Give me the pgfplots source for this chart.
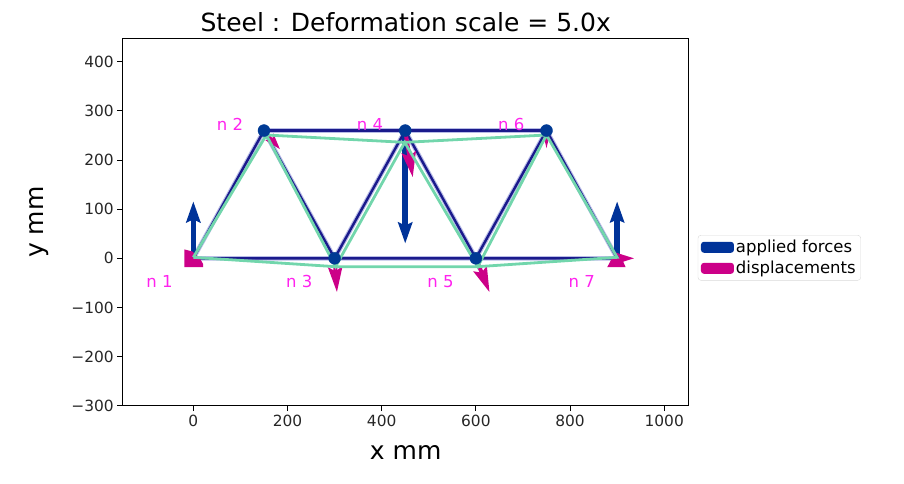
\documentclass[border=0pt]{standalone}
\usepackage{fontspec}
\setmainfont{DejaVu Sans}
\usepackage{pgfplots}
\pgfplotsset{compat=1.18}
\usetikzlibrary{arrows.meta}
\definecolor{forcec}{HTML}{003399}
\definecolor{dispc}{HTML}{CC0088}
\definecolor{memb}{HTML}{1A1A8C}
\definecolor{membhalo}{HTML}{B8BCE6}
\definecolor{defc}{HTML}{72D6AC}
\definecolor{nodec}{HTML}{003A94}
\definecolor{labc}{HTML}{FF22EE}
\pgfplotstableread{
x y u v
0 0 0 116
450 260 0 -230
900 0 0 116
}\forces
\pgfplotstableread{
x y u v
300 0 5 -69
450 260 16 -95
600 0 29 -69
}\displ
\pgfplotsset{
  dq/.style n args={3}{dispc,line width=#1,forget plot,-{Stealth[length=#2,width=#3,inset=4pt]},
    quiver={u=\thisrow{u},v=\thisrow{v}}},
}
\tikzset{lab/.style={font=\fontsize{16.5}{18}\selectfont,text=labc}}
\begin{document}
\begin{tikzpicture}[x=1pt,y=1pt]
\begin{axis}[
    at={(0,0)},anchor=south west,
    scale only axis,width=566pt,height=367pt,
    xmin=-150,xmax=1052,ymin=-300,ymax=447,
    xtick={0,200,400,600,800,1000},
    xticklabels={0,200,400,600,800,1000},
    ytick={-300,-200,-100,0,100,200,300,400},
    yticklabels={−300,−200,−100,0,100,200,300,400},
    xtick pos=bottom,ytick pos=left,
    tick align=outside,
    major tick length=5.5pt,
    tick style={black,line width=.9pt},
    axis line style={line width=.9pt},
    tick label style={font=\fontsize{15.4}{17}\selectfont,text=black!85},
    title={Steel : Deformation scale = 5.0x},
    title style={font=\fontsize{25}{29}\selectfont,yshift=-3pt},
    xlabel={x mm},ylabel={y mm},
    xlabel shift=12pt,ylabel shift=16pt,
    label style={font=\fontsize{25}{29}\selectfont},
    legend style={at={(1.016,0.403)},anchor=west,font=\fontsize{16.5}{25}\selectfont,draw=black!15,rounded corners=3pt,row sep=3pt,inner xsep=3pt,inner ysep=3pt},
    legend cell align=left,
    legend image code/.code={\fill[#1,draw=none] (0pt,-5.5pt) rectangle (33pt,5.5pt);},
    clip=false,
]
% undeformed truss
\addplot[color=membhalo,line width=4.6pt,forget plot] coordinates {(0,0)(150,260)(300,0)(450,260)(600,0)(750,260)(900,0)(0,0)};
\addplot[color=membhalo,line width=4.6pt,forget plot] coordinates {(150,260)(750,260)};
\addplot[color=memb,line width=2.4pt,forget plot] coordinates {(0,0)(150,260)(300,0)(450,260)(600,0)(750,260)(900,0)(0,0)};
\addplot[color=memb,line width=2.4pt,forget plot] coordinates {(150,260)(750,260)};
\addplot[only marks,mark=*,mark size=6pt,color=nodec,forget plot] coordinates {(150,260)(450,260)(750,260)(300,0)(600,0)};
% force arrows
\addplot[forcec,line width=5.5pt,forget plot,-{Stealth[length=21pt,width=14pt,inset=3pt]},
   quiver={u=\thisrow{u},v=\thisrow{v}}] table[x=x,y=y] {\forces};
% displacement arrows
\addplot[dq={4pt}{25pt}{14pt}] table[x=x,y=y] {\displ};
\addplot[dq={3pt}{16pt}{10pt}] table[x=x,y=y] {
x y u v
150 260 34 -38
};
\addplot[dq={2pt}{13pt}{6pt}] table[x=x,y=y] {
x y u v
750 260 0 -36
};
\addplot[dq={3pt}{18pt}{11pt}] table[x=x,y=y] {
x y u v
900 0 36 0
};
% blocks at the two supports
\addplot[fill=dispc,draw=none,forget plot] coordinates {(-19,18)(-2,14)(15,-2)(21,-12)(21,-18)(-19,-18)} --cycle;
\addplot[fill=dispc,draw=none,forget plot] coordinates {(879,-18)(918,-18)(909,2)(890,2)} --cycle;
% deformed truss
\addplot[color=defc,line width=2.8pt,forget plot] coordinates {(0,2)(155,251)(302,-17)(449,236)(604,-17)(750,251)(900,2)(604,-17)(302,-17)(0,2)};
\addplot[color=defc,line width=2.8pt,forget plot] coordinates {(155,251)(449,236)(750,251)};
\node[lab] at (axis cs:-72,-48) {n 1};
\node[lab] at (axis cs:78,273) {n 2};
\node[lab] at (axis cs:225,-48) {n 3};
\node[lab] at (axis cs:375,273) {n 4};
\node[lab] at (axis cs:525,-48) {n 5};
\node[lab] at (axis cs:675,273) {n 6};
\node[lab] at (axis cs:825,-48) {n 7};
\addlegendimage{forcec}
\addlegendentry{applied forces}
\addlegendimage{dispc}
\addlegendentry{displacements}
\end{axis}
\useasboundingbox (-122.7pt,-77.3pt) rectangle (781.3pt,405.7pt);
\end{tikzpicture}
\end{document}
